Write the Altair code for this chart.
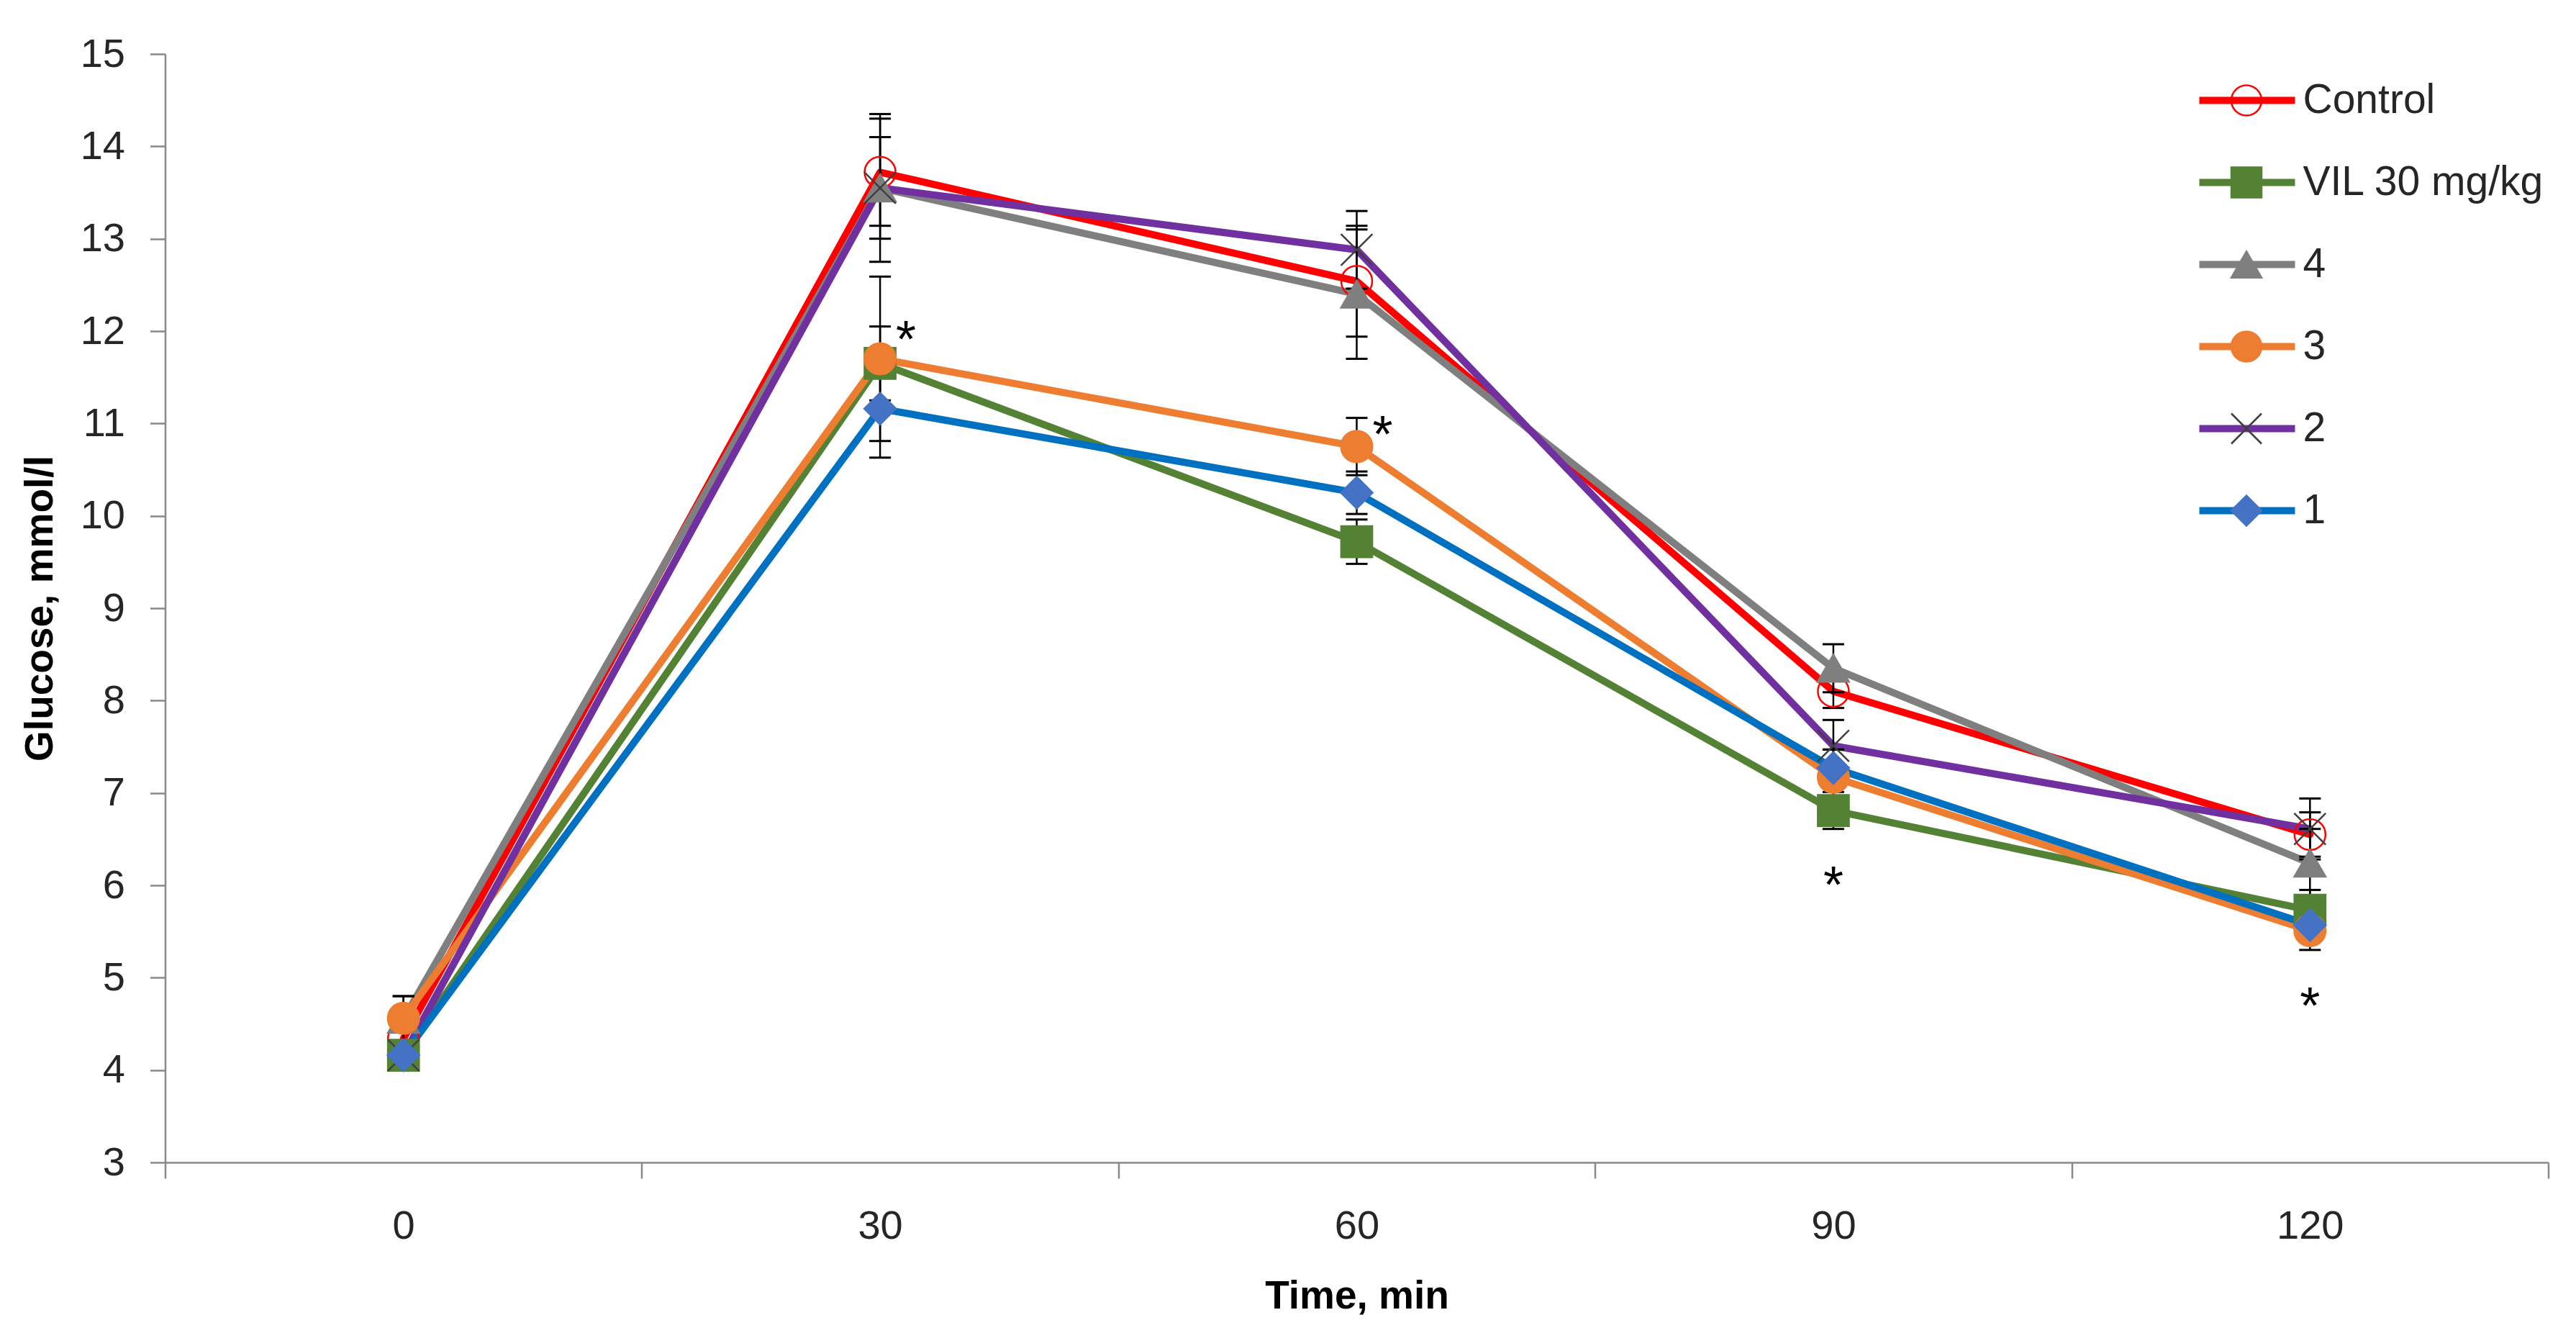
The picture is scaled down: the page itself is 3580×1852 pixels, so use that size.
import altair as alt
import pandas as pd

# ---------------- data ----------------
TIME = [0, 30, 60, 90, 120]
SERIES = ["Control", "VIL 30 mg/kg", "4", "3", "2", "1"]

MEAN_CONTROL = [4.34, 13.72, 12.54, 8.10, 6.55]
SD_CONTROL = [0.12, 0.58, 0.60, 0.18, 0.24]
MEAN_VIL = [4.16, 11.65, 9.72, 6.81, 5.73]
SD_VIL = [0.10, 0.40, 0.24, 0.20, 0.22]
MEAN_4 = [4.55, 13.55, 12.40, 8.35, 6.24]
SD_4 = [0.25, 0.55, 0.70, 0.26, 0.37]
MEAN_3 = [4.56, 11.70, 10.75, 7.17, 5.51]
SD_3 = [0.24, 0.89, 0.31, 0.30, 0.21]
MEAN_2 = [4.16, 13.55, 12.88, 7.51, 6.61]
SD_2 = [0.12, 0.80, 0.42, 0.28, 0.33]
MEAN_1 = [4.16, 11.16, 10.25, 7.27, 5.57]
SD_1 = [0.10, 0.53, 0.23, 0.20, 0.15]

# significance asterisks (time, glucose level)
AST_SIDE_TIME = [30, 60]
AST_SIDE_LEVEL = [12.05, 11.02]
AST_BELOW_TIME = [90, 120]
AST_BELOW_LEVEL = [6.14, 4.83]

Y_TICKS = list(range(3, 16))

# ---------------- styles ----------------
LINE_COLORS = ["#FF0000", "#548235", "#7F7F7F", "#ED7D31", "#7030A0", "#0070C0"]
MARKER_FILL = ["transparent", "#548235", "#7F7F7F", "#ED7D31", "transparent", "#4472C4"]
MARKER_STROKE = ["#FF0000", "#548235", "#7F7F7F", "#ED7D31", "#404040", "#4472C4"]
MARKER_SHAPES = ["circle", "square", "triangle-up", "circle", "M-1,-1L1,1M-1,1L1,-1", "diamond"]
MARKER_SIZES = [1850, 1936, 1764, 1764, 2304, 1444]

FONT = "Liberation Sans"
TEXT = "#262626"
AXIS = "#898989"

means = [MEAN_CONTROL, MEAN_VIL, MEAN_4, MEAN_3, MEAN_2, MEAN_1]
sds = [SD_CONTROL, SD_VIL, SD_4, SD_3, SD_2, SD_1]
rows = []
for s, m, sd in zip(SERIES, means, sds):
    for t, v, e in zip(TIME, m, sd):
        rows.append({"series": s, "time": t, "mean": v, "lo": v - e, "hi": v + e})
df = pd.DataFrame(rows)

ast_side = pd.DataFrame({"time": AST_SIDE_TIME, "level": AST_SIDE_LEVEL})
ast_below = pd.DataFrame({"time": AST_BELOW_TIME, "level": AST_BELOW_LEVEL})

XTITLE = "Time, min"
YTITLE = "Glucose, mmol/l"

x_enc = alt.X(
    "time:O",
    title=XTITLE,
    scale=alt.Scale(type="band", paddingInner=0, paddingOuter=0),
    axis=alt.Axis(
        tickBand="extent", labelAngle=0, tickSize=22, labelPadding=39,
        titleY=202, titleBaseline="alphabetic",
    ),
)
y_scale = alt.Scale(domain=[3, 15], nice=False, zero=False)
y_axis = alt.Axis(
    values=Y_TICKS, tickSize=21, labelPadding=35, grid=False,
    titleX=-157.5, titleY=770, titleBaseline="alphabetic",
)

LEG_FONT = 57
ROW_PAD = 56
CLIP_H = 57
LEG_Y = 36

# line part of the legend: keyed on a separate field so it stays a legend of its own;
# its labels are blank, the marker legend drawn over it carries the names
LINE_KEYS = ["line " + s for s in SERIES]
lines = alt.Chart(df).transform_calculate(
    line_key="'line ' + datum.series"
).mark_line(strokeWidth=10, strokeJoin="round", strokeCap="round").encode(
    x=x_enc,
    y=alt.Y("mean:Q", title=YTITLE, scale=y_scale, axis=y_axis),
    color=alt.Color(
        "line_key:N",
        scale=alt.Scale(domain=LINE_KEYS, range=LINE_COLORS),
        legend=alt.Legend(
            orient="none", legendX=2822, legendY=LEG_Y, title=None,
            symbolType="stroke", symbolStrokeWidth=10, symbolSize=17689,
            labelExpr="' '", labelOpacity=0, labelFontSize=LEG_FONT, labelFont=FONT,
            rowPadding=ROW_PAD, padding=0, clipHeight=CLIP_H,
        ),
    ),
)

err = alt.Chart(df).mark_rule(color="black", strokeWidth=2.5).encode(
    x=x_enc,
    y=alt.Y("lo:Q", title=YTITLE, scale=y_scale, axis=y_axis),
    y2="hi:Q",
)
cap_lo = alt.Chart(df).mark_tick(color="black", thickness=3, size=30, opacity=1).encode(
    x=x_enc, y=alt.Y("lo:Q", title=YTITLE, scale=y_scale, axis=y_axis)
)
cap_hi = alt.Chart(df).mark_tick(color="black", thickness=3, size=30, opacity=1).encode(
    x=x_enc, y=alt.Y("hi:Q", title=YTITLE, scale=y_scale, axis=y_axis)
)

leg2 = alt.Legend(
    orient="none", legendX=2864, legendY=LEG_Y, title=None,
    symbolSize=1764, symbolStrokeWidth=2.5,
    labelFontSize=LEG_FONT, labelFont=FONT, labelColor=TEXT, labelOffset=50, labelLimit=0,
    rowPadding=ROW_PAD, padding=0, clipHeight=CLIP_H,
)
points = alt.Chart(df).mark_point(filled=True, opacity=1, strokeWidth=2.5).encode(
    x=x_enc,
    y=alt.Y("mean:Q", title=YTITLE, scale=y_scale, axis=y_axis),
    shape=alt.Shape("series:N", scale=alt.Scale(domain=SERIES, range=MARKER_SHAPES), legend=leg2),
    fill=alt.Fill("series:N", scale=alt.Scale(domain=SERIES, range=MARKER_FILL), legend=leg2),
    stroke=alt.Stroke("series:N", scale=alt.Scale(domain=SERIES, range=MARKER_STROKE), legend=leg2),
    size=alt.Size("series:N", sort=SERIES, scale=alt.Scale(range=MARKER_SIZES), legend=None),
)

ast1 = alt.Chart(ast_side).mark_text(
    text="*", font=FONT, fontSize=72, color="black", baseline="alphabetic", dx=36, dy=42
).encode(x=x_enc, y=alt.Y("level:Q", title=YTITLE, scale=y_scale, axis=y_axis))
ast2 = alt.Chart(ast_below).mark_text(
    text="*", font=FONT, fontSize=72, color="black", baseline="alphabetic", dy=42
).encode(x=x_enc, y=alt.Y("level:Q", title=YTITLE, scale=y_scale, axis=y_axis))

chart = alt.layer(lines, err, cap_lo, cap_hi, points, ast1, ast2).properties(
    width=3312, height=1540,
    padding={"left": 221.5, "top": 67, "right": 30.5, "bottom": 225},
    autosize=alt.AutoSizeParams(type="none"),
    background="white",
).configure_view(stroke=None).configure_axis(
    domainColor=AXIS, domainWidth=2.5, tickColor=AXIS, tickWidth=2.5,
    labelFont=FONT, labelFontSize=56, labelColor=TEXT,
    titleFont=FONT, titleFontSize=55, titleFontWeight="bold", titleColor="black",
    grid=False,
)

chart.save("out.html", embed_options={"renderer": "svg", "actions": False})
